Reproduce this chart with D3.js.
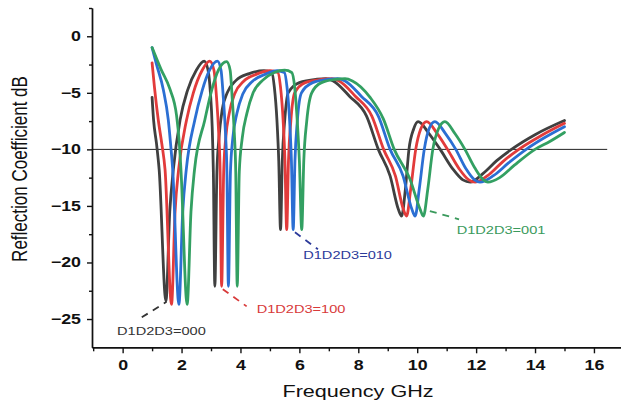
<!DOCTYPE html>
<html>
<head>
<meta charset="utf-8">
<script src="https://cdn.jsdelivr.net/npm/d3@7"></script>
<style>
  body { margin: 0; background: #fff; }
  svg { display: block; font-family: "Liberation Sans", Arial, sans-serif; }
</style>
</head>
<body>
<div id="chart"></div>
<script>
// values (GHz, dB)
const freq000 = [1.00,1.05,1.15,1.24,1.47,1.60,1.72,1.95,2.20,2.50,2.77,2.90,2.98,3.04,3.08,3.13,3.20,3.27,3.38,3.55,3.85,4.30,4.80,5.06,5.15,5.24,5.30,5.36,5.42,5.50,5.62,6.00,6.60,6.90,7.15,7.70,8.28,8.68,9.08,9.36,9.47,9.60,9.72,9.88,10.03,10.40,10.78,11.20,11.55,11.80,12.25,12.70,13.20,14.00,15.00];
const rc000   = [-5.4,-7.4,-9.5,-11.8,-23.4,-15.5,-11.8,-7.4,-4.8,-3.0,-2.2,-3.0,-5.0,-8.0,-12.0,-22.1,-12.0,-9.0,-6.5,-5.0,-3.9,-3.3,-3.05,-3.2,-4.5,-7.5,-11.0,-17.1,-11.0,-7.5,-5.0,-4.1,-3.8,-3.75,-3.95,-5.3,-7.06,-10.0,-12.35,-15.3,-15.9,-13.5,-10.0,-8.2,-7.55,-8.6,-10.0,-11.7,-12.7,-12.9,-12.1,-11.0,-10.0,-8.7,-7.45];

const freq100 = [1.00,1.08,1.21,1.33,1.44,1.66,1.78,1.90,2.17,2.40,2.70,2.96,3.10,3.19,3.26,3.31,3.36,3.43,3.50,3.62,3.80,4.10,4.55,5.00,5.27,5.36,5.45,5.51,5.57,5.63,5.71,5.84,6.20,6.80,7.10,7.35,7.90,8.46,8.86,9.26,9.53,9.64,9.78,9.95,10.12,10.32,10.68,11.03,11.42,11.75,11.97,12.45,12.90,13.45,14.20,15.00];
const rc100   = [-2.35,-4.5,-7.4,-9.5,-11.8,-23.7,-15.5,-11.8,-7.4,-5.0,-3.0,-2.2,-3.0,-5.5,-8.5,-12.0,-22.1,-12.0,-9.0,-6.8,-5.1,-4.0,-3.35,-3.05,-3.2,-4.5,-7.5,-11.0,-17.1,-11.0,-7.5,-5.0,-4.1,-3.8,-3.75,-3.95,-5.3,-7.06,-10.0,-12.35,-15.3,-15.9,-13.5,-10.0,-8.2,-7.55,-8.6,-10.0,-11.7,-12.7,-12.9,-12.2,-11.1,-10.0,-8.8,-7.7];

const freq010 = [1.00,1.14,1.38,1.55,1.62,1.70,1.91,2.04,2.16,2.45,2.70,2.95,3.22,3.34,3.42,3.49,3.54,3.59,3.66,3.74,3.88,4.08,4.40,4.85,5.25,5.49,5.58,5.67,5.73,5.79,5.85,5.93,6.07,6.45,7.00,7.30,7.55,8.10,8.68,9.08,9.52,9.82,9.93,10.07,10.24,10.40,10.60,10.96,11.31,11.65,11.95,12.13,12.60,13.10,13.70,14.30,15.00];
const rc010   = [-1.0,-2.4,-4.7,-7.4,-9.3,-11.8,-23.7,-15.5,-11.8,-7.4,-4.8,-3.0,-2.2,-3.0,-5.5,-8.5,-12.0,-22.1,-12.0,-9.0,-6.8,-5.1,-4.0,-3.35,-3.05,-3.2,-4.5,-7.5,-11.0,-17.1,-11.0,-7.5,-5.0,-4.1,-3.8,-3.75,-3.95,-5.3,-7.06,-10.0,-12.35,-15.3,-15.9,-13.5,-10.0,-8.2,-7.55,-8.6,-10.0,-11.7,-12.7,-12.9,-12.3,-11.2,-10.0,-9.0,-8.0];

const freq001 = [1.00,1.30,1.61,1.83,1.92,1.98,2.19,2.32,2.44,2.79,3.00,3.25,3.53,3.65,3.72,3.79,3.84,3.89,3.96,4.06,4.22,4.43,4.75,5.15,5.50,5.74,5.84,5.94,6.00,6.08,6.15,6.25,6.42,6.75,7.25,7.55,7.80,8.40,8.85,9.22,9.75,10.10,10.21,10.36,10.53,10.72,10.94,11.28,11.62,11.97,12.25,12.40,12.80,13.30,14.00,14.50,15.00];
const rc001   = [-1.0,-2.9,-4.7,-7.0,-9.3,-11.8,-23.7,-15.5,-11.8,-7.4,-5.0,-3.0,-2.25,-3.0,-5.5,-8.5,-12.0,-22.1,-12.0,-9.0,-6.8,-5.0,-3.9,-3.2,-3.0,-3.2,-4.5,-8.0,-11.0,-17.1,-11.0,-7.5,-5.0,-4.1,-3.8,-3.75,-3.95,-5.4,-7.3,-10.0,-12.6,-15.3,-15.9,-13.5,-10.0,-8.2,-7.55,-8.6,-10.0,-11.7,-12.7,-12.9,-12.5,-11.4,-10.0,-9.3,-8.5];

const seriesNames  = ["000", "100", "010", "001"];
const seriesColors = ["#404040", "#e23b3b", "#2b6fd3", "#33a062"];

// annotation labels: text anchor and leader line ends, in data units
const labelTexts  = ["D1D2D3=000", "D1D2D3=100", "D1D2D3=010", "D1D2D3=001"];
const labelColors = ["#333333", "#d83a3a", "#2c3a9a", "#3a9a5c"];
const labelAt     = [[-0.19, -26.4], [4.55, -24.5], [6.13, -19.7], [11.34, -17.44]];
const leaderFrom  = [[0.65, -24.85], [3.40, -22.36], [5.85, -17.33], [10.43, -15.45]];
const leaderTo    = [[1.49, -23.48], [4.21, -23.88], [6.63, -18.83], [11.42, -16.18]];

const xMajor = d3.range(0, 17, 2);
const xMinor = d3.range(-1, 18, 2);
const yMajor = [0, -5, -10, -15, -20, -25];
const yMinor = [2.5, -2.5, -7.5, -12.5, -17.5, -22.5];
const refLevel = -10;
const refEnd = 16.45;

const W = 621, H = 406;
const SX = 1.27; // the picture is stretched sideways

const x = d3.scaleLinear().domain([-1.04, 17]).range([92, 623.4]);
const y = d3.scaleLinear().domain([-27.5, 2.5]).range([347.3, 8]);

const svg = d3.select("#chart").append("svg")
    .attr("width", W)
    .attr("height", H);

// -10 dB reference line
svg.append("line")
    .attr("x1", x.range()[0]).attr("x2", x(refEnd))
    .attr("y1", y(refLevel)).attr("y2", y(refLevel))
    .attr("stroke", "#222").attr("stroke-width", 1);

const line = d3.line()
    .x(d => x(d[0]))
    .y(d => y(d[1]))
    .curve(d3.curveMonotoneX);

const series = [
    d3.zip(freq000, rc000),
    d3.zip(freq100, rc100),
    d3.zip(freq010, rc010),
    d3.zip(freq001, rc001)
];

svg.append("g").attr("id", "curves")
    .selectAll("path")
    .data(series)
    .enter().append("path")
    .attr("d", line)
    .attr("fill", "none")
    .attr("stroke", (d, i) => seriesColors[i])
    .attr("stroke-width", 2.8)
    .attr("stroke-linejoin", "round")
    .attr("stroke-linecap", "round");

// leader lines and labels
const ann = svg.append("g").attr("id", "labels");
ann.selectAll("line")
    .data(labelTexts)
    .enter().append("line")
    .attr("x1", (d, i) => x(leaderFrom[i][0]))
    .attr("y1", (d, i) => y(leaderFrom[i][1]))
    .attr("x2", (d, i) => x(leaderTo[i][0]))
    .attr("y2", (d, i) => y(leaderTo[i][1]))
    .attr("stroke", (d, i) => labelColors[i])
    .attr("stroke-width", 1.8)
    .attr("stroke-dasharray", "7,6");

ann.selectAll("text")
    .data(labelTexts)
    .enter().append("text")
    .attr("transform", (d, i) => "translate(" + x(labelAt[i][0]) + "," + y(labelAt[i][1]) + ") scale(" + SX + ",1)")
    .attr("fill", (d, i) => labelColors[i])
    .attr("font-size", 11.5)
    .text(d => d);

// axes: minor ticks first, then labelled major ticks
svg.append("g")
    .attr("transform", "translate(0," + y.range()[0] + ")")
    .call(d3.axisBottom(x).tickValues(xMinor).tickSize(4).tickFormat("").tickSizeOuter(0));
const xAxisMajor = svg.append("g")
    .attr("transform", "translate(0," + y.range()[0] + ")")
    .call(d3.axisBottom(x).tickValues(xMajor).tickSize(6).tickPadding(7).tickSizeOuter(0));

svg.append("g")
    .attr("transform", "translate(" + x.range()[0] + ",0)")
    .call(d3.axisLeft(y).tickValues(yMinor).tickSize(3).tickFormat("").tickSizeOuter(0));
const yAxisMajor = svg.append("g")
    .attr("transform", "translate(" + x.range()[0] + ",0)")
    .call(d3.axisLeft(y).tickValues(yMajor).tickSize(5).tickPadding(6).tickSizeOuter(0));

svg.selectAll(".domain, .tick line")
    .attr("stroke", "#111")
    .attr("stroke-width", 1.4);

xAxisMajor.selectAll("text")
    .attr("font-size", 14).attr("font-weight", "bold").attr("fill", "#111")
    .attr("font-family", "Liberation Sans, Arial, sans-serif")
    .attr("transform", "scale(" + SX + ",1)");

yAxisMajor.selectAll("text")
    .attr("font-size", 14).attr("font-weight", "bold").attr("fill", "#111")
    .attr("font-family", "Liberation Sans, Arial, sans-serif")
    .attr("x", -11 / SX)
    .attr("transform", "scale(" + SX + ",1)");

// axis titles
svg.append("text")
    .attr("transform", "translate(358,397) scale(" + SX + ",1)")
    .attr("text-anchor", "middle")
    .attr("font-size", 17)
    .attr("fill", "#111")
    .text("Frequency GHz");

svg.append("text")
    .attr("transform", "translate(26.5,169) scale(" + SX + ",1) rotate(-90)")
    .attr("text-anchor", "middle")
    .attr("font-size", 17)
    .attr("fill", "#111")
    .text("Reflection Coefficient dB");
</script>
</body>
</html>
